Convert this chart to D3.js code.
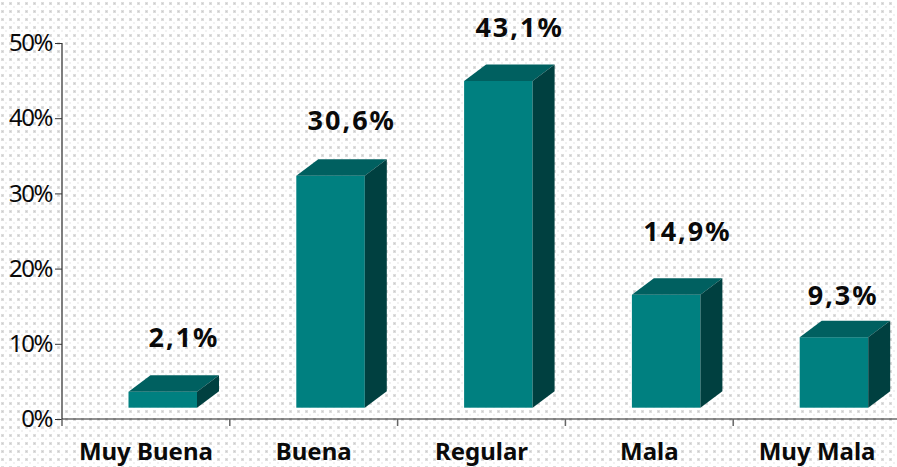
<!DOCTYPE html>
<html>
<head>
<meta charset="utf-8">
<script src="https://cdnjs.cloudflare.com/ajax/libs/d3/7.8.5/d3.min.js"></script>
<style>
html,body{margin:0;padding:0;background:#fff;overflow:hidden;}
text{font-family:"Noto Sans",sans-serif;fill:#0a0a0a;}
</style>
</head>
<body>
<div id="chart"></div>
<script>
const categories=["Muy Buena","Buena","Regular","Mala","Muy Mala"];
const values=[2.1,30.6,43.1,14.9,9.3];
const valueLabels=["2,1%","30,6%","43,1%","14,9%","9,3%"];
const yTicks=[0,10,20,30,40,50];

const width=897, height=467;
const depthX=22, depthY=16.5;

const svg=d3.select("#chart").append("svg")
  .attr("width",width).attr("height",height);

// dotted slide background
const pat=svg.append("defs").append("pattern")
  .attr("id","dots").attr("patternUnits","userSpaceOnUse")
  .attr("width",8).attr("height",8);
pat.append("rect").attr("width",8).attr("height",8).attr("fill","#ffffff");
pat.append("rect").attr("x",1).attr("y",2).attr("width",3).attr("height",3).attr("fill","#dedede");
pat.append("rect").attr("x",2).attr("y",3).attr("width",1).attr("height",1).attr("fill","#cbcbcb");
pat.append("rect").attr("x",5).attr("y",6).attr("width",2).attr("height",2).attr("fill","#f1f1f1");
svg.append("rect").attr("width",width).attr("height",height).attr("fill","url(#dots)");

const x=d3.scaleBand().domain(categories).range([62,901]);
const y=d3.scaleLinear().domain([0,50]).range([419,43]);
// bars stand on the front of the 3d floor, so their scale is a bit off the wall
const barY=d3.scaleLinear().domain([0,50]).range([407.7,28.7]);

const barW=68.5;
const bars=svg.selectAll("g.bar").data(values).join("g").attr("class","bar")
  .attr("transform",(d,i)=>`translate(${x(categories[i])+66.5},${barY(d)})`);

bars.append("rect").attr("width",barW).attr("height",d=>barY(0)-barY(d)).attr("fill","#008080");
bars.append("path")
  .attr("d",`M0,0L${depthX},${-depthY}H${barW+depthX}L${barW},0Z`)
  .attr("fill","#006060");
bars.append("path")
  .attr("d",d=>`M${barW},0L${barW+depthX},${-depthY}V${barY(0)-barY(d)-depthY}L${barW},${barY(0)-barY(d)}Z`)
  .attr("fill","#004040");

// labels were moved by hand in the original, hence the per label nudges
const liftNudge=[28,29,27.5,37,16];
svg.selectAll("text.val").data(values).join("text").attr("class","val")
  .attr("x",(d,i)=>x(categories[i])+(i==4?110:122))
  .attr("y",(d,i)=>barY(d)-depthY-liftNudge[i])
  .attr("text-anchor","middle")
  .style("font-weight","bold").style("font-size","27px").style("letter-spacing","2px")
  .text((d,i)=>valueLabels[i]);

// axes
const yAxis=d3.axisLeft(y).tickValues(yTicks).tickFormat(d=>d+"%").tickSize(7).tickPadding(3);
const gy=svg.append("g").attr("transform","translate(62,0)").call(yAxis);
gy.select(".domain").attr("stroke","#555").attr("stroke-width",1.5).attr("d","M0,43V419");
gy.selectAll(".tick line").attr("stroke","#333");
gy.selectAll("text").style("font-size","24px").style("letter-spacing","-1.5px").attr("fill","#0a0a0a");

const xAxis=d3.axisBottom(x).tickFormat(d=>d).tickSize(0).tickPadding(24);
const gx=svg.append("g").attr("transform","translate(0,419)").call(xAxis);
gx.select(".domain").attr("stroke","#222").attr("d","M62,0H897");
gx.selectAll("text").style("font-size","24px").style("font-weight","bold").attr("fill","#0a0a0a");
gx.selectAll("line.sep").data(categories).join("line").attr("class","sep")
  .attr("x1",d=>x(d)).attr("x2",d=>x(d))
  .attr("y1",0).attr("y2",7).attr("stroke","#666").attr("stroke-width",1.5);
</script>
</body>
</html>
